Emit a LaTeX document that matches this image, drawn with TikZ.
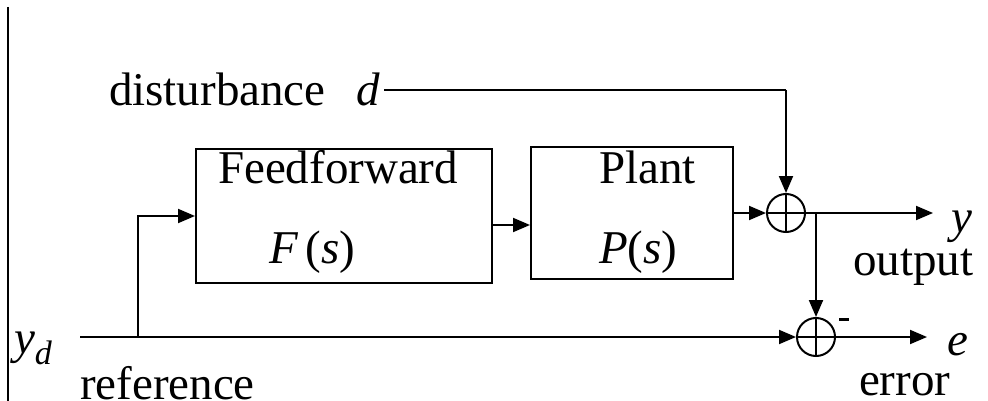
\documentclass[tikz,border=0pt]{standalone}
\usepackage{fontspec}
\setmainfont{Liberation Serif}
\usetikzlibrary{arrows.meta}
\begin{document}
\begin{tikzpicture}[x=1pt,y=-1pt,
  line width=2pt,
  font=\fontsize{47}{50}\selectfont,
  blk/.style={draw,rectangle,inner sep=0pt},
  lbl/.style={inner sep=0pt,anchor=base west},
  sumnode/.style={circle,draw,minimum size=38pt,inner sep=0pt,
    path picture={\draw[line width=2pt] (path picture bounding box.north) -- (path picture bounding box.south)
      (path picture bounding box.west) -- (path picture bounding box.east);}},
  sig/.style={-{Triangle[length=17pt,width=14pt]}}]
\useasboundingbox (0,0) rectangle (988,401);
% left frame line
\draw (8,7) -- (8,401);
% blocks
\node[blk,minimum width=296pt,minimum height=134pt] (ff) at (344,216) {};
\node[blk,minimum width=202pt,minimum height=132pt] (pl) at (632,213) {};
\node[lbl] (fft) at (217,183) {Feedforward};
\node[lbl] (ffs) at (268,263) {\textit{F}\,(\textit{s})};
\node[lbl] (plt) at (598,183) {Plant};
\node[lbl] (pls) at (598,263) {\textit{P}(\textit{s})};
% summing junctions
\node[sumnode] (s1) at (786,213) {};
\node[sumnode] (s2) at (816,337) {};
% labels
\node[lbl] (dist) at (108,106) {disturbance};
\node[lbl] (dd) at (355,106) {\textit{d}};
\node[lbl] (yd) at (13,353) {\textit{y}\raisebox{-11pt}{\fontsize{34}{36}\selectfont\textit{d}}};
\node[lbl] (ref) at (79,399) {reference};
\node[lbl] (yout) at (950,232) {\textit{y}};
\node[lbl] (outp) at (852,275) {output};
\node[lbl] (eout) at (946,355) {\textit{e}};
\node[lbl] (err) at (858,395) {error};
\node[inner sep=0pt] (minus) at (844,319) {\rule{10pt}{3pt}};
% coordinates
\coordinate (din) at (384,90);
\coordinate (dcorner) at (s1.center |- din);
\coordinate (ydin) at (80,337);
\coordinate (br) at (138,337);
\coordinate (brup) at (138,216);
\coordinate (yend) at (933,213);
\coordinate (ybr) at (s2.center |- s1.center);
\coordinate (eend) at (927,337);
% connectors
\draw (din) -- (dcorner);
\draw[sig] (dcorner) -- (s1.north);
\draw[sig] (ydin) -- (s2.west);
\draw[sig] (br) -- (brup) -- (ff.west |- brup);
\draw[sig] (ff.east |- 0,225) -- (pl.west |- 0,225);
\draw[sig] (pl.east |- s1.center) -- (s1.west);
\draw[sig] (s1.east) -- (yend);
\draw[sig] (ybr) -- (s2.north);
\draw[sig] (s2.east) -- (eend);
\end{tikzpicture}
\end{document}
